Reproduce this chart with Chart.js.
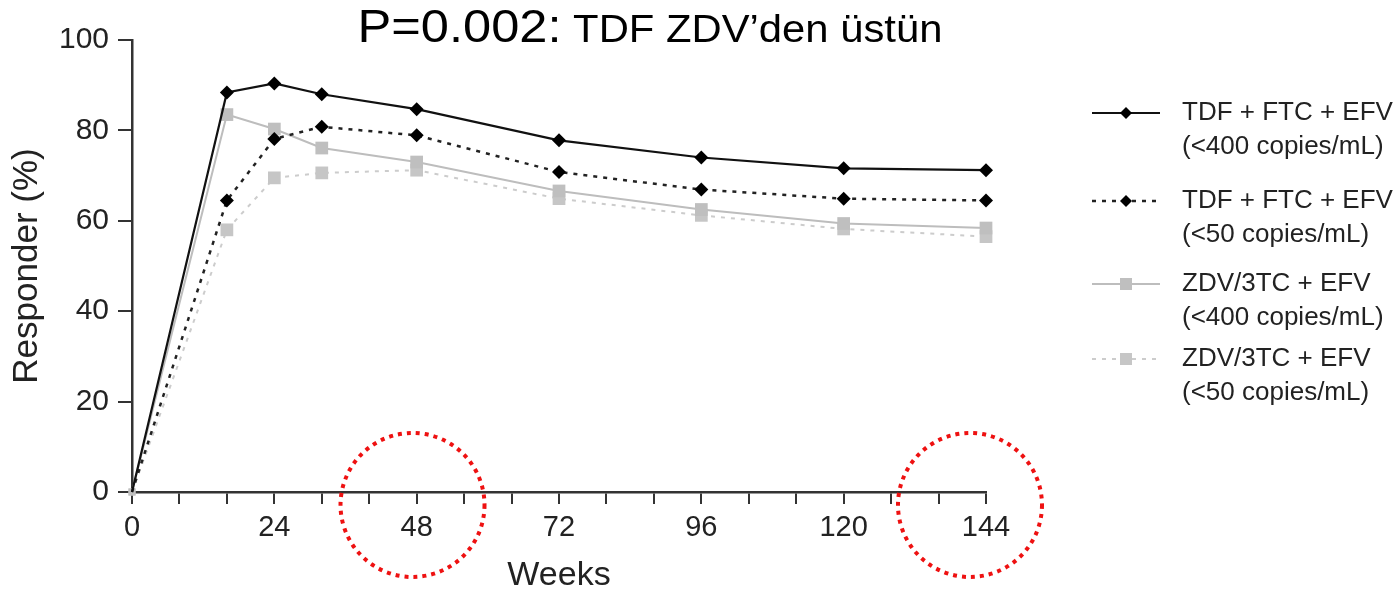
<!DOCTYPE html>
<html>
<head>
<meta charset="utf-8">
<script src="https://cdn.jsdelivr.net/npm/chart.js@4.4.1/dist/chart.umd.min.js"></script>
<style>
  html, body { margin: 0; padding: 0; background: #fff; }
  #wrap { width: 1397px; height: 598px; }
</style>
</head>
<body>
<div id="wrap"><canvas id="chart" width="1397" height="598"></canvas></div>
<script>
// Values (percent responders by week)
const weeks = [0, 16, 24, 32, 48, 72, 96, 120, 144];
const tdf400 = [0, 88.4, 90.4, 88.0, 84.7, 77.8, 74.0, 71.6, 71.2];
const tdf50 = [0, 64.5, 78.1, 80.8, 78.9, 70.8, 66.9, 64.9, 64.5];
const zdv400 = [0, 83.5, 80.3, 76.1, 73.0, 66.6, 62.5, 59.4, 58.4];
const zdv50 = [0, 58.0, 69.5, 70.6, 71.2, 64.9, 61.2, 58.2, 56.5];

const seriesLabels = [
    ['TDF + FTC + EFV', '(<400 copies/mL)'],
    ['TDF + FTC + EFV', '(<50 copies/mL)'],
    ['ZDV/3TC + EFV', '(<400 copies/mL)'],
    ['ZDV/3TC + EFV', '(<50 copies/mL)']
];
const xLabelTicks = [0, 24, 48, 72, 96, 120, 144];
const yTicks = [0, 20, 40, 60, 80, 100];
const titleMain = 'P=0.002:';
const titleRest = ' TDF ZDV\u2019den üstün';
// weeks circled in red on the slide
const circledWeeks = [47.3, 141.3];

const FONT = '"Liberation Sans", Arial, Helvetica, sans-serif';
Chart.defaults.font.family = FONT;

function points(vals) {
    return weeks.map((w, i) => ({ x: w, y: vals[i] }));
}

// legend row centres (first line of each entry)
const legendRows = [113, 201, 284, 359];

// Title drawn with two font sizes, slightly widened like the slide
const titlePlugin = {
    id: 'mixedTitle',
    afterDraw(chart) {
        const ctx = chart.ctx;
        const sx = 1.1;
        ctx.save();
        ctx.fillStyle = '#000';
        ctx.textBaseline = 'alphabetic';
        ctx.font = '46px ' + FONT;
        const w1 = ctx.measureText(titleMain).width;
        ctx.font = '38px ' + FONT;
        const w2 = ctx.measureText(titleRest).width;
        const x0 = 650 - (w1 + w2) * sx / 2;
        ctx.translate(x0, 42);
        ctx.scale(sx, 1);
        ctx.font = '46px ' + FONT;
        ctx.fillText(titleMain, 0, 0);
        ctx.font = '38px ' + FONT;
        ctx.fillText(titleRest, w1, 0);
        ctx.restore();
    }
};

// Two-line legend at the right
const legendPlugin = {
    id: 'sideLegend',
    afterDraw(chart) {
        const ctx = chart.ctx;
        chart.data.datasets.forEach((ds, i) => {
            const y = legendRows[i];
            ctx.save();
            ctx.strokeStyle = ds.borderColor;
            ctx.lineWidth = ds.borderWidth;
            ctx.setLineDash(ds.borderDash || []);
            ctx.beginPath();
            ctx.moveTo(1092, y);
            ctx.lineTo(1160, y);
            ctx.stroke();
            ctx.setLineDash([]);
            ctx.fillStyle = ds.pointBackgroundColor;
            ctx.beginPath();
            if (ds.pointStyle === 'rectRot') {
                const r = 6;
                ctx.moveTo(1126, y - r);
                ctx.lineTo(1126 + r, y);
                ctx.lineTo(1126, y + r);
                ctx.lineTo(1126 - r, y);
                ctx.closePath();
            } else {
                ctx.rect(1120, y - 6, 12, 12);
            }
            ctx.fill();
            ctx.fillStyle = '#222';
            ctx.font = '26px ' + FONT;
            ctx.textBaseline = 'middle';
            ctx.fillText(seriesLabels[i][0], 1182, y);
            ctx.fillText(seriesLabels[i][1], 1182, y + 34);
            ctx.restore();
        });
    }
};

// Red dotted circles round the week labels
const circlePlugin = {
    id: 'redCircles',
    afterDraw(chart) {
        const ctx = chart.ctx;
        const xs = chart.scales.x;
        const yc = chart.chartArea.bottom + 13;
        ctx.save();
        ctx.strokeStyle = '#ee1111';
        ctx.lineWidth = 4;
        ctx.setLineDash([4, 5]);
        circledWeeks.forEach(w => {
            ctx.beginPath();
            ctx.arc(xs.getPixelForValue(w), yc, 72, 0, Math.PI * 2);
            ctx.stroke();
        });
        ctx.restore();
    }
};

const chart = new Chart(document.getElementById('chart'), {
    type: 'line',
    data: {
        datasets: [
            {
                label: seriesLabels[0].join(' '),
                data: points(tdf400),
                borderColor: '#111',
                borderWidth: 2.2,
                pointStyle: 'rectRot',
                pointBackgroundColor: '#000',
                pointBorderWidth: 0,
                pointRadius: ctx => ctx.dataIndex === 0 ? 0 : 7
            },
            {
                label: seriesLabels[1].join(' '),
                data: points(tdf50),
                borderColor: '#222',
                borderWidth: 2.5,
                borderDash: [4, 6],
                pointStyle: 'rectRot',
                pointBackgroundColor: '#000',
                pointBorderWidth: 0,
                pointRadius: ctx => ctx.dataIndex === 0 ? 0 : 7
            },
            {
                label: seriesLabels[2].join(' '),
                data: points(zdv400),
                borderColor: '#bdbdbd',
                borderWidth: 2,
                pointStyle: 'rect',
                pointBackgroundColor: '#bfbfbf',
                pointBorderWidth: 0,
                pointRadius: ctx => ctx.dataIndex === 0 ? 5 : 9
            },
            {
                label: seriesLabels[3].join(' '),
                data: points(zdv50),
                borderColor: '#cccccc',
                borderWidth: 2,
                borderDash: [4, 6],
                pointStyle: 'rect',
                pointBackgroundColor: '#c6c6c6',
                pointBorderWidth: 0,
                pointRadius: ctx => ctx.dataIndex === 0 ? 5 : 9
            }
        ]
    },
    options: {
        responsive: false,
        animation: false,
        devicePixelRatio: 1,
        clip: false,
        layout: { padding: { top: 40, right: 411, left: 0, bottom: 0 } },
        elements: { line: { tension: 0 } },
        plugins: {
            legend: { display: false },
            title: { display: false },
            tooltip: { enabled: false }
        },
        scales: {
            x: {
                type: 'linear',
                min: 0,
                max: 144,
                afterFit: s => { s.height = 106; },
                afterBuildTicks: s => {
                    const t = [];
                    for (let v = 0; v <= 144; v += 8) t.push({ value: v });
                    s.ticks = t;
                },
                ticks: {
                    autoSkip: false,
                    maxRotation: 0,
                    padding: 7,
                    color: '#222',
                    font: { size: 29 },
                    callback: v => xLabelTicks.includes(v) ? String(v) : ''
                },
                grid: {
                    drawOnChartArea: false,
                    drawTicks: true,
                    tickLength: 12,
                    color: '#333',
                    lineWidth: 2
                },
                border: { color: '#333', width: 2.5 },
                title: {
                    display: true,
                    text: 'Weeks',
                    color: '#222',
                    font: { size: 34 },
                    padding: { top: 0, bottom: 2 }
                }
            },
            y: {
                min: 0,
                max: 100,
                afterFit: s => { s.width = 132; },
                afterBuildTicks: s => {
                    s.ticks = yTicks.map(v => ({ value: v }));
                },
                ticks: {
                    padding: 9,
                    color: '#222',
                    font: { size: 30 }
                },
                grid: {
                    drawOnChartArea: false,
                    drawTicks: true,
                    tickLength: 14,
                    color: '#333',
                    lineWidth: 2
                },
                border: { color: '#333', width: 2.5 },
                title: {
                    display: true,
                    text: 'Responder (%)',
                    color: '#222',
                    font: { size: 35 },
                    padding: { top: 6, bottom: 0 }
                }
            }
        }
    },
    plugins: [titlePlugin, legendPlugin, circlePlugin]
});
</script>
</body>
</html>
